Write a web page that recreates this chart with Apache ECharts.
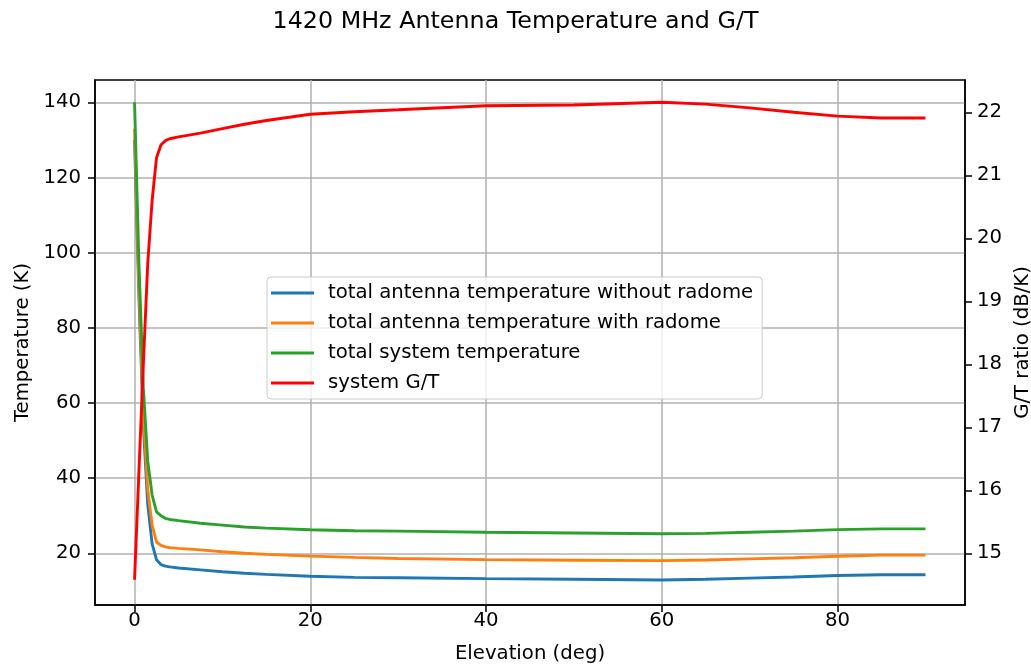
<!DOCTYPE html>
<html><head><meta charset="utf-8">
<script src="https://cdn.jsdelivr.net/npm/echarts@6/dist/echarts.min.js"></script>
<style>html,body{margin:0;padding:0;background:#fff}#c{width:1031px;height:666px}</style>
</head><body><div id="c"></div>
<script>
const elevation = [0, 0.5, 1, 1.5, 2, 2.5, 3, 3.5, 4, 5, 7.5, 10, 12.5, 15, 20, 25, 30, 40, 50, 60, 65, 70, 75, 80, 85, 90];
const tantNoRadome = [130, 88, 54, 33, 22.5, 18.3, 17.0, 16.6, 16.4, 16.1, 15.6, 15.1, 14.7, 14.4, 13.9, 13.6, 13.5, 13.25, 13.1, 12.9, 13.1, 13.4, 13.7, 14.1, 14.3, 14.3];
const tantRadome = [133, 91, 57, 37, 27.5, 23, 22.1, 21.7, 21.5, 21.3, 20.9, 20.4, 20.0, 19.7, 19.25, 18.9, 18.6, 18.3, 18.15, 18.05, 18.2, 18.5, 18.8, 19.2, 19.5, 19.5];
const tsys = [140, 97, 64, 44.5, 35.5, 31, 30, 29.3, 29.0, 28.7, 28.0, 27.5, 27.0, 26.7, 26.25, 26.0, 25.9, 25.6, 25.4, 25.2, 25.3, 25.6, 25.9, 26.3, 26.5, 26.5];
const gOverT = [14.58, 16.3, 18.0, 19.6, 20.6, 21.28, 21.48, 21.55, 21.58, 21.61, 21.67, 21.74, 21.81, 21.87, 21.97, 22.01, 22.04, 22.105, 22.115, 22.16, 22.13, 22.07, 22.0, 21.94, 21.91, 21.91];
const seriesNames = ['total antenna temperature without radome', 'total antenna temperature with radome', 'total system temperature', 'system G/T'];
const xTicks = [0, 20, 40, 60, 80];
const tempTicks = [20, 40, 60, 80, 100, 120, 140];
const gtTicks = [15, 16, 17, 18, 19, 20, 21, 22];

const FONT = 'DejaVu Sans';
const FS = 19.7;
const chart = echarts.init(document.getElementById('c'), null, {renderer: 'canvas'});
const mk = arr => elevation.map((x, i) => [x, arr[i]]);
const colors = ['#1f77b4', '#ff7f0e', '#2ca02c', '#ff0000'];
const lbl = {fontFamily: FONT, fontSize: FS, color: '#000'};
const axisLine = {show: true, onZero: false, lineStyle: {color: '#000', width: 1.5}};
const mkSeries = (i, data, yi) => ({
  name: seriesNames[i], type: 'line', data: mk(data), yAxisIndex: yi,
  symbol: 'none', showSymbol: false, smooth: false,
  lineStyle: {color: colors[i], width: 2.9}, itemStyle: {color: colors[i]}, z: 2 + i
});
const option = {
  animation: false,
  backgroundColor: '#fff',
  textStyle: {fontFamily: FONT},
  title: {text: '1420 MHz Antenna Temperature and G/T', left: 'center', top: 5,
    textStyle: {fontFamily: FONT, fontSize: 23.8, fontWeight: 'normal', color: '#000'}},
  grid: {left: 95, right: 66, top: 80, bottom: 61, outerBoundsMode: 'none', containLabel: false,
    show: true, borderColor: '#000', borderWidth: 1.5, backgroundColor: 'transparent'},
  legend: {orient: 'vertical', left: 267, top: 277, padding: [6, 9, 6, 4], itemWidth: 43, itemHeight: 14, itemGap: 10,
    icon: 'path://M0,0L43,0L43,2.9L0,2.9Z',
    backgroundColor: 'rgba(255,255,255,0.8)', borderColor: '#cccccc', borderWidth: 1, borderRadius: 4,
    textStyle: {fontFamily: FONT, fontSize: FS, color: '#000', padding: [0, 0, 0, 9]}, data: seriesNames},
  xAxis: {type: 'value', min: -4.5, max: 94.5, name: 'Elevation (deg)', nameLocation: 'middle', nameGap: 39,
    nameTextStyle: lbl, axisLine: axisLine,
    axisTick: {show: true, length: 7, customValues: xTicks, lineStyle: {color: '#000', width: 1.5}},
    axisLabel: Object.assign({customValues: xTicks, margin: 6}, lbl),
    splitLine: {show: true, lineStyle: {color: '#b0b0b0', width: 1.5}}},
  yAxis: [
    {type: 'value', position: 'left', min: 6.24, max: 145.93, name: 'Temperature (K)', nameLocation: 'middle', nameGap: 62, nameRotate: 90,
      nameTextStyle: lbl, axisLine: axisLine,
      axisTick: {show: true, length: 7, customValues: tempTicks, lineStyle: {color: '#000', width: 1.5}},
      axisLabel: Object.assign({customValues: tempTicks, margin: 14}, lbl),
      splitLine: {show: true, lineStyle: {color: '#b0b0b0', width: 1.5}}},
    {type: 'value', position: 'right', min: 14.179, max: 22.513, name: 'G/T ratio (dB/K)', nameLocation: 'middle', nameGap: 45, nameRotate: 90,
      nameTextStyle: lbl, axisLine: axisLine,
      axisTick: {show: true, length: 7, customValues: gtTicks, lineStyle: {color: '#000', width: 1.5}},
      axisLabel: Object.assign({customValues: gtTicks, margin: 12}, lbl),
      splitLine: {show: false}}
  ],
  series: [
    mkSeries(0, tantNoRadome, 0),
    mkSeries(1, tantRadome, 0),
    mkSeries(2, tsys, 0),
    mkSeries(3, gOverT, 1)
  ]
};
chart.setOption(option);
</script>
</body></html>
